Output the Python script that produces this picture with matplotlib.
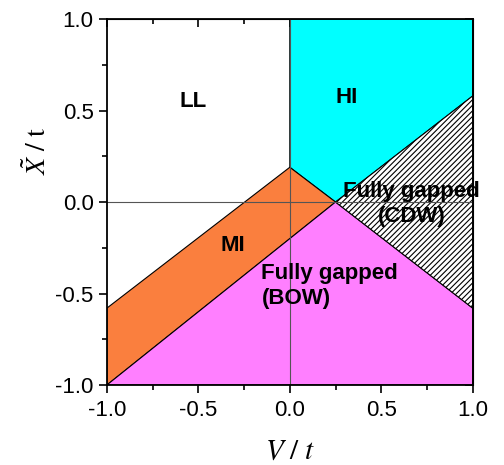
import matplotlib.pyplot as plt
import numpy as np
from matplotlib.ticker import MultipleLocator

plt.rcParams['font.family'] = ['Liberation Sans', 'DejaVu Sans']
plt.rcParams['mathtext.fontset'] = 'stix'
plt.rcParams['hatch.linewidth'] = 0.8

# phase boundary points (V/t, X/t) ------------------------
P_top   = [0.0, 0.19]    # MI / HI / LL corner
P_mid   = [0.25, 0.0]    # multicritical point
P_mi_l  = [-1.0, -0.58]  # MI upper edge at V=-1
P_bow_l = [-1.0, -1.0]   # MI lower edge at V=-1
P_cdw_u = [1.0, 0.58]    # HI / CDW edge at V=1
P_cdw_d = [1.0, -0.58]   # CDW / BOW edge at V=1

phases = ['LL', 'HI', 'MI', 'CDW', 'BOW']
colors = {'HI': '#00FFFF', 'MI': '#FA7F3E', 'BOW': '#FF7FFF'}

fig = plt.figure(figsize=(5.04, 4.65), dpi=100)
ax = fig.add_axes([0.212, 0.172, 0.726, 0.787])

def poly(pts, **kw):
    a = np.array(pts)
    ax.fill(a[:, 0], a[:, 1], edgecolor='black', linewidth=0.8, **kw)

# regions
poly([[0, 1], [1, 1], P_cdw_u, P_mid, P_top], facecolor=colors['HI'])
poly([P_mi_l, P_top, P_mid, P_bow_l], facecolor=colors['MI'])
poly([P_bow_l, P_mid, P_cdw_d, [1, -1]], facecolor=colors['BOW'])
poly([P_mid, P_cdw_u, P_cdw_d], facecolor='white', hatch='//////')

ax.axhline(0, color='#555555', linewidth=0.8)
ax.axvline(0, color='#555555', linewidth=0.8)

# region labels
bold = dict(fontsize=16, fontweight='bold', color='black')
ax.text(-0.53, 0.55, 'LL', ha='center', va='center', **bold)
ax.text(0.31, 0.57, 'HI', ha='center', va='center', **bold)
ax.text(-0.31, -0.235, 'MI', ha='center', va='center', **bold)
ax.text(0.665, -0.01, 'Fully gapped\n(CDW)', ha='center', va='center',
        linespacing=1.25, **bold)
ax.text(-0.155, -0.46, 'Fully gapped\n(BOW)', ha='left', va='center',
        linespacing=1.25, **bold)

ax.set_xlim(-1, 1)
ax.set_ylim(-1, 1)
ax.xaxis.set_major_locator(MultipleLocator(0.5))
ax.yaxis.set_major_locator(MultipleLocator(0.5))
ax.xaxis.set_minor_locator(MultipleLocator(0.25))
ax.yaxis.set_minor_locator(MultipleLocator(0.25))
ax.xaxis.set_major_formatter(plt.FormatStrFormatter('%.1f'))
ax.yaxis.set_major_formatter(plt.FormatStrFormatter('%.1f'))
ax.tick_params(which='both', direction='out', top=False, right=False,
               labelsize=16, width=1.2)
ax.tick_params(which='major', length=6)
ax.tick_params(which='minor', length=3.5)
ax.tick_params(axis='x', pad=5)
ax2 = ax.secondary_xaxis('top')
ax2.set_xticks([-1, -0.5, 0, 0.5, 1], labels=[])
ax2.xaxis.set_minor_locator(MultipleLocator(0.25))
ax2.tick_params(which='both', direction='in', width=1.2)
ax2.tick_params(which='major', length=6)
ax2.tick_params(which='minor', length=3.5)
ay2 = ax.secondary_yaxis('right')
ay2.set_yticks([-1, -0.5, 0, 0.5, 1], labels=[])
ay2.yaxis.set_minor_locator(MultipleLocator(0.25))
ay2.tick_params(which='both', direction='in', width=1.2)
ay2.tick_params(which='major', length=6)
ay2.tick_params(which='minor', length=3.5)
for s in ax.spines.values():
    s.set_linewidth(1.3)

ax.set_xlabel(r'$V\ /\ t$', fontsize=21)
ax.xaxis.set_label_coords(0.5, -0.14)
ax.set_ylabel(r'$\tilde{X}\ /\ \mathrm{t}$', fontsize=20)
ax.yaxis.set_label_coords(-0.15, 0.64)

fig.savefig('out.png', dpi=100)
